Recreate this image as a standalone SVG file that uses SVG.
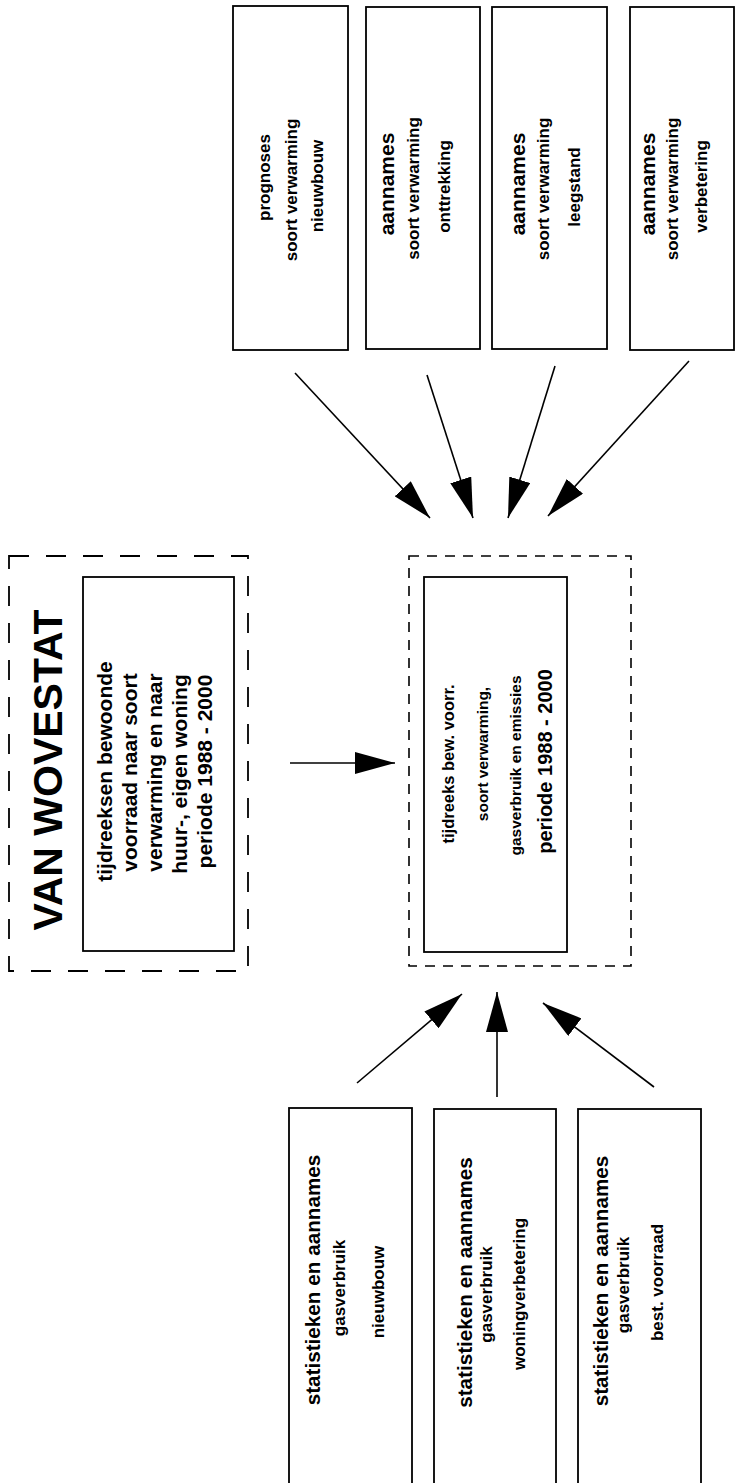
<svg xmlns="http://www.w3.org/2000/svg" width="736" height="1483" viewBox="0 0 736 1483">
<style>
.box{fill:none;stroke:#000;stroke-width:1.8}
.dashL{fill:none;stroke:#000;stroke-width:1.8;stroke-dasharray:20 17}
.dashC{fill:none;stroke:#000;stroke-width:1.6;stroke-dasharray:10 8}
.t{font-family:"Liberation Sans",Arial,sans-serif;font-weight:bold;text-anchor:middle;fill:#000}
.s{font-size:17px}
.m{font-size:21px}
.c{font-size:15.5px}
.conn line{stroke:#000;stroke-width:1.6}
</style>
<defs>
<marker id="ah" viewBox="0 0 40 22" refX="40" refY="11" markerWidth="40" markerHeight="22" markerUnits="userSpaceOnUse" orient="auto">
<path d="M0,0 L40,11 L0,22 z" fill="#000"/>
</marker>
</defs>
<rect width="736" height="1483" fill="#fff"/>

<g id="van-wovestat">
<rect class="dashL" x="9" y="556" width="239" height="415"/>
<text class="t" font-size="41" transform="translate(62,770) rotate(-90)">VAN WOVESTAT</text>
</g>
<g id="tijdreeksen-bewoonde">
<rect class="box" x="83" y="577" width="151" height="374"/>
<g class="t m">
<text transform="translate(112,771.5) rotate(-90)">tijdreeksen bewoonde</text>
<text transform="translate(137,772.5) rotate(-90)">voorraad naar soort</text>
<text transform="translate(162,772.5) rotate(-90)">verwarming en naar</text>
<text transform="translate(187,774) rotate(-90)">huur-, eigen woning</text>
<text transform="translate(212,771.5) rotate(-90)">periode 1988 - 2000</text>
</g>
</g>

<g id="centrum">
<rect class="dashC" x="409" y="556" width="222" height="410"/>
<rect class="box" x="424" y="577" width="143" height="375"/>
<text class="t" font-size="16.5" transform="translate(454,764) rotate(-90)">tijdreeks bew. voorr.</text>
<text class="t c" transform="translate(488,754) rotate(-90)">soort verwarming,</text>
<text class="t c" transform="translate(521,765.5) rotate(-90)">gasverbruik en emissies</text>
<text class="t" font-size="20" transform="translate(552,761.5) rotate(-90)">periode 1988 - 2000</text>
</g>

<g id="prognoses-nieuwbouw">
<rect class="box" x="233" y="6" width="115" height="344"/>
<text class="t s" transform="translate(270,177.5) rotate(-90)">prognoses</text>
<text class="t s" transform="translate(297,190) rotate(-90)">soort verwarming</text>
<text class="t s" transform="translate(323,186) rotate(-90)">nieuwbouw</text>
</g>
<g id="aannames-onttrekking">
<rect class="box" x="366" y="7" width="114" height="342"/>
<text class="t m" transform="translate(394,184) rotate(-90)">aannames</text>
<text class="t s" transform="translate(419,188.5) rotate(-90)">soort verwarming</text>
<text class="t s" transform="translate(450,186.5) rotate(-90)">onttrekking</text>
</g>
<g id="aannames-leegstand">
<rect class="box" x="492" y="7" width="115" height="342"/>
<text class="t m" transform="translate(525,184) rotate(-90)">aannames</text>
<text class="t s" transform="translate(549,189) rotate(-90)">soort verwarming</text>
<text class="t s" transform="translate(580,187) rotate(-90)">leegstand</text>
</g>
<g id="aannames-verbetering">
<rect class="box" x="630" y="7" width="104" height="343"/>
<text class="t m" transform="translate(655,184) rotate(-90)">aannames</text>
<text class="t s" transform="translate(678,189) rotate(-90)">soort verwarming</text>
<text class="t s" transform="translate(707,186.5) rotate(-90)">verbetering</text>
</g>

<g id="gasverbruik-nieuwbouw">
<rect class="box" x="289" y="1108" width="123" height="400"/>
<text class="t" font-size="20.7" transform="translate(320,1280) rotate(-90)">statistieken en aannames</text>
<text class="t s" transform="translate(345,1288) rotate(-90)">gasverbruik</text>
<text class="t s" transform="translate(384,1292) rotate(-90)">nieuwbouw</text>
</g>
<g id="gasverbruik-woningverbetering">
<rect class="box" x="434" y="1109" width="122" height="400"/>
<text class="t" font-size="20.7" transform="translate(472,1282.5) rotate(-90)">statistieken en aannames</text>
<text class="t s" transform="translate(492,1294.5) rotate(-90)">gasverbruik</text>
<text class="t s" transform="translate(525,1294) rotate(-90)">woningverbetering</text>
</g>
<g id="gasverbruik-best-voorraad">
<rect class="box" x="578" y="1109" width="123" height="400"/>
<text class="t" font-size="20.7" transform="translate(608,1281) rotate(-90)">statistieken en aannames</text>
<text class="t s" transform="translate(629,1285) rotate(-90)">gasverbruik</text>
<text class="t s" transform="translate(663,1282.5) rotate(-90)">best. voorraad</text>
</g>

<g id="connectors" class="conn">
<line x1="295" y1="373" x2="430" y2="518" marker-end="url(#ah)"/>
<line x1="427" y1="375" x2="473" y2="518" marker-end="url(#ah)"/>
<line x1="555" y1="366" x2="508" y2="518" marker-end="url(#ah)"/>
<line x1="689" y1="361" x2="548" y2="516" marker-end="url(#ah)"/>
<line x1="290" y1="763" x2="395" y2="763" marker-end="url(#ah)"/>
<line x1="357" y1="1083" x2="462" y2="994" marker-end="url(#ah)"/>
<line x1="497" y1="1097" x2="497" y2="992" marker-end="url(#ah)"/>
<line x1="654" y1="1087" x2="543" y2="1003" marker-end="url(#ah)"/>
</g>
</svg>
